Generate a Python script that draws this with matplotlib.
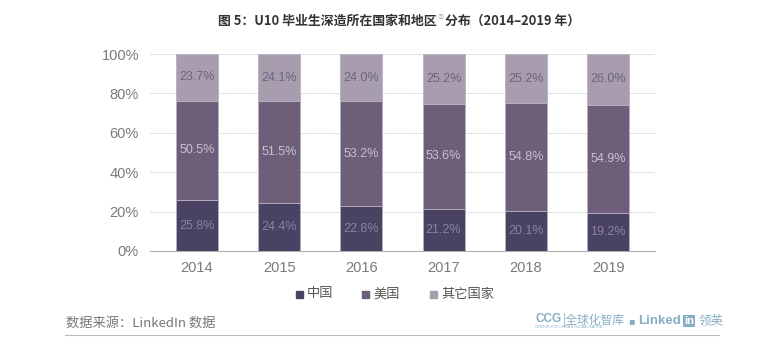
import matplotlib.pyplot as plt
import numpy as np
from matplotlib.patches import Rectangle

plt.rcParams['font.family'] = ['Liberation Sans', 'Noto Sans CJK SC', 'DejaVu Sans']

years = ['2014', '2015', '2016', '2017', '2018', '2019']
china = [25.8, 24.4, 22.8, 21.2, 20.1, 19.2]
usa = [50.5, 51.5, 53.2, 53.6, 54.8, 54.9]
other = [23.7, 24.1, 24.0, 25.2, 25.2, 26.0]
series_names = ['中国', '美国', '其它国家']

colors = ['#4a4262', '#6d5e79', '#a89daf']
label_colors = ['#8a82a0', '#c9c0d2', '#6e6478']
CJK = ['Noto Sans CJK SC', 'DejaVu Sans']

fig = plt.figure(figsize=(7.82, 3.62), dpi=100)
ax = fig.add_axes([150 / 782, 1 - 251 / 362, 505 / 782, 197 / 362])

x = np.arange(len(years))
bottom = np.zeros(len(years))
for vals, c, lc in zip([china, usa, other], colors, label_colors):
    vals = np.array(vals)
    ax.bar(x, vals, 0.51, bottom=bottom, color=c, edgecolor='#b8b0c0',
           linewidth=0.6, zorder=3)
    for xi, b, v in zip(x, bottom, vals):
        ax.text(xi, b + v / 2, f'{v:.1f}%', ha='center', va='center',
                fontsize=9, color=lc, zorder=4)
    bottom = bottom + vals

ax.set_xlim(-0.57, 5.57)
ax.set_ylim(0, 100)
ax.set_yticks(range(0, 101, 20))
ax.set_yticklabels([f'{v}%' for v in range(0, 101, 20)])
ax.set_xticks(x)
ax.set_xticklabels(years)
ax.tick_params(length=0, labelsize=10.5, colors='#7a7a7a', pad=7)
ax.tick_params(axis='y', pad=8)
ax.yaxis.grid(True, color='#cfcfcf', linestyle=(0, (2, 1)), linewidth=0.6, zorder=0)
for s in ['top', 'right', 'left']:
    ax.spines[s].set_visible(False)
ax.spines['bottom'].set_color('#b0b0b0')

# title, placed piece by piece so the footnote mark sits after 地区
renderer = fig.canvas.get_renderer()
parts = [('图 5：U10 毕业生深造所在国家和地区', 9.3, 0, '#333333', 'bold'),
         ('①', 4.5, 4, '#999999', 'normal'),
         ('分布（2014–2019 年）', 9.3, 0, '#333333', 'bold')]
cx = 218
for txt, fs, dy, col, fw in parts:
    t = fig.text(cx / 782, 1 - (21 - dy) / 362, txt, ha='left', va='center',
                 fontsize=fs, fontweight=fw, color=col, family=CJK)
    cx += t.get_window_extent(renderer).width + 1

# legend
leg_x = [296, 362, 430]
for lx, c, name in zip(leg_x, colors, series_names):
    fig.patches.append(Rectangle((lx / 782, 1 - 298 / 362), 7 / 782, 7 / 362,
                                 transform=fig.transFigure, color=c, figure=fig))
    fig.text((lx + 11) / 782, 1 - 294 / 362, name, ha='left', va='center',
             fontsize=9.5, color='#555555', family=CJK)

# footer
fig.text(66 / 782, 1 - 323 / 362, '数据来源：LinkedIn 数据', ha='left', va='center',
         fontsize=9.5, color='#777777', family=CJK)
fig.text(535 / 782, 1 - 319 / 362, 'CCG', ha='left', va='center', fontsize=8.5,
         fontweight='bold', color='#86aec4')
fig.text(563 / 782, 1 - 320 / 362, '|全球化智库', ha='left', va='center', fontsize=8.5,
         color='#86aec4', family=CJK)
fig.text(535 / 782, 1 - 327.5 / 362, 'CENTER FOR CHINA & GLOBALIZATION', ha='left',
         va='center', fontsize=2.6, color='#86aec4')
fig.text(628 / 782, 1 - 321 / 362, '▪', ha='left', va='center', fontsize=7,
         color='#86aec4', family='DejaVu Sans')
fig.text(638 / 782, 1 - 321 / 362, 'Linked', ha='left', va='center', fontsize=9.5,
         fontweight='bold', color='#86aec4')
fig.text(684 / 782, 1 - 321 / 362, 'in', ha='left', va='center', fontsize=8,
         fontweight='bold', color='white',
         bbox=dict(boxstyle='square,pad=0.12', fc='#86aec4', ec='none'))
fig.text(699 / 782, 1 - 321 / 362, '领英', ha='left', va='center', fontsize=9,
         color='#86aec4', family=CJK)
fig.add_artist(plt.Line2D([65 / 782, 719 / 782], [1 - 335 / 362, 1 - 335 / 362],
                          color='#bbbbbb', linewidth=0.8, transform=fig.transFigure))

fig.savefig('out.png', dpi=100)
